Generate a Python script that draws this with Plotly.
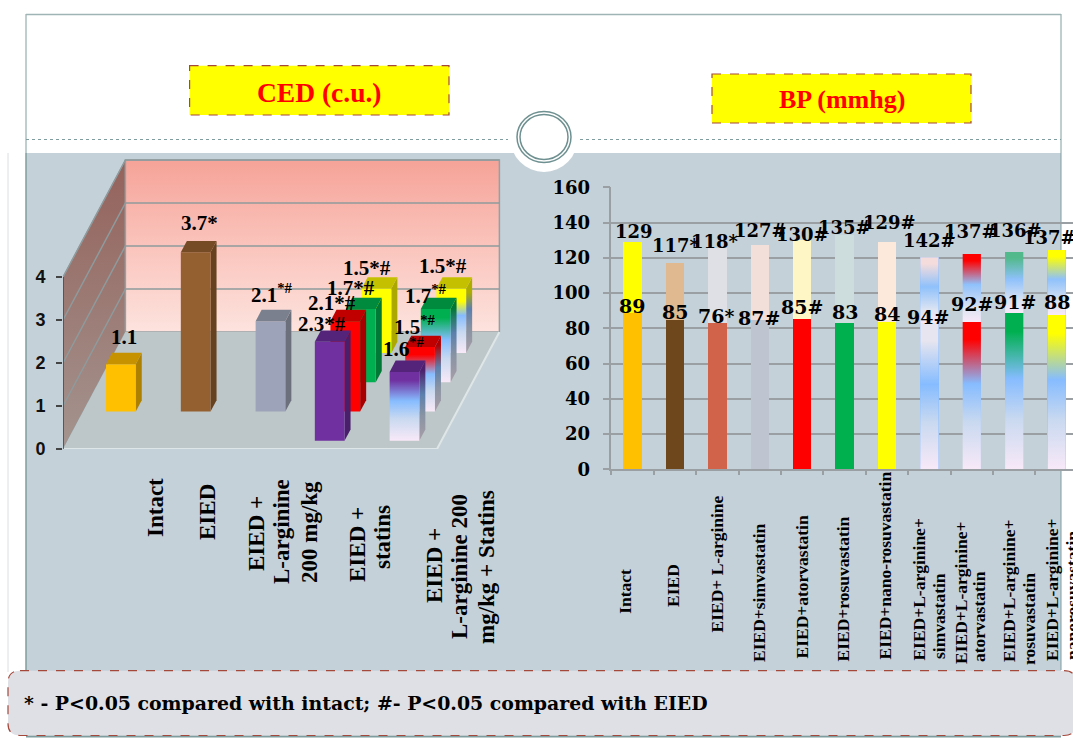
import plotly.graph_objects as go

W, H = 1073, 738

# ---------- data: left chart (CED) ----------
ced_categories = [["Intact"], ["EIED"], ["EIED +", "L-arginine", "200 mg/kg"], ["EIED +", "statins"],
                  ["EIED +", "L-arginine 200", "mg/kg + Statins"]]
ced_columns = [0, 1, 2, 3, 3, 3, 3, 4, 4, 4, 4]
ced_rows = [1, 1, 1, 0, 1, 2, 3, 0, 1, 2, 3]
ced_values = [1.1, 3.7, 2.1, 2.3, 2.1, 1.7, 1.5, 1.6, 1.5, 1.7, 1.5]
ced_labels = ["1.1", "3.7*", "2.1<sup>*#</sup>", "2.3*#", "2.1*#", "1.7*#", "1.5*#",
              "1.6<sup>*#</sup>", "1.5<sup>*#</sup>", "1.7<sup>*#</sup>", "1.5*#"]
ced_ticks = [0, 1, 2, 3, 4]

# ---------- data: right chart (BP) ----------
bp_categories = [["Intact"], ["EIED"], ["EIED+ L-arginine"], ["EIED+simvastatin"], ["EIED+atorvastatin"],
                 ["EIED+rosuvastatin"], ["EIED+nano-rosuvastatin"], ["EIED+L-arginine+", "simvastatin"],
                 ["EIED+L-arginine+", "atorvastatin"], ["EIED+L-arginine+", "rosuvastatin"],
                 ["EIED+L-arginine+", "nanorosuvastatin"]]
bp_lower = [88.5, 84.7, 83, 84.7, 85.3, 83, 83.6, 83, 83.6, 88.7, 87.6]
bp_total = [129, 117, 125.4, 127.3, 130.3, 133, 129, 120.3, 122.2, 123.3, 124.4]
bp_lower_labels = ["89", "85", "76*", "87#", "85#", "83", "84", "94#", "92#", "91#", "88"]
bp_upper_labels = ["129", "117*", "118*", "127#", "130#", "135#", "129#", "142#", "137#", "136#", "137#"]
bp_ticks = [0, 20, 40, 60, 80, 100, 120, 140, 160]

note_text = "* - P<0.05 compared with intact; #- P<0.05 compared with EIED"

# ---------- styles ----------
PANEL = "#c5d1d8"
TEAL = "#7f9c9e"
DASH = "#a5483c"
BLUE = "#86bcff"
PALE = "#f8e9f8"
SERIF = "Liberation Serif"
DJV = "DejaVu Serif"


def px(x):
    return x / W


def py(y):
    return 1 - y / H


def shade(c, k):
    r, g, b = int(c[1:3], 16), int(c[3:5], 16), int(c[5:7], 16)
    return "#%02x%02x%02x" % (int(r * k), int(g * k), int(b * k))


def grad_stops(c):
    """top-to-bottom stops of the slide's colour -> blue -> pale gradient"""
    return [(0, c), (0.12, c), (0.42, BLUE), (0.68, "#c9d9f0"), (1, PALE)]


fig = go.Figure()


def poly(xs, ys, color=None, stops=None, xa="x", ya="y", line=None):
    kw = {}
    if stops:
        top, bot = max(ys), min(ys)
        cs = [[round(1 - f, 4), c] for f, c in reversed(stops)]
        kw["fillgradient"] = dict(type="vertical", colorscale=cs, start=bot, stop=top)
    else:
        kw["fillcolor"] = color
    fig.add_trace(go.Scatter(x=list(xs) + [xs[0]], y=list(ys) + [ys[0]], mode="lines", fill="toself",
                             line=dict(width=line[1], color=line[0]) if line else dict(width=0),
                             xaxis=xa, yaxis=ya, hoverinfo="skip", showlegend=False, **kw))


def seg(xs, ys, color, width=1.5, xa="x", ya="y"):
    fig.add_trace(go.Scatter(x=xs, y=ys, mode="lines", line=dict(color=color, width=width),
                             xaxis=xa, yaxis=ya, hoverinfo="skip", showlegend=False))


# ---------- 3-D projection for the left chart (axis units) ----------
PX_PER_COL, PX_PER_VAL = 74.8, 43.0
DX = 15.6 / PX_PER_COL       # x shift per depth row
DY = 29.25 / PX_PER_VAL      # y shift per depth row
GAP = 23.0 / PX_PER_COL
BARW = 29.7 / PX_PER_COL
Z0, ZD = 0.284, 0.386
NC, NR = 5, 4
YMAX = 6.8
XMAX = 5.9

# walls and floor
wall_h = max(ced_ticks)
poly([0, NR * DX, NR * DX, 0], [0, NR * DY, NR * DY + wall_h, wall_h],
     stops=[(0, "#94625b"), (1, "#a4948f")], line=("#8f9a9c", 1))
poly([NR * DX, NC + NR * DX, NC + NR * DX, NR * DX],
     [NR * DY, NR * DY, NR * DY + wall_h, NR * DY + wall_h],
     stops=[(0, "#f6a398"), (0.5, "#fac4bc"), (1, "#fde3de")], line=("#94a0a2", 1.5))
poly([0, NC, NC + NR * DX, NR * DX], [0, 0, NR * DY, NR * DY], color="#bdc6c8")
seg([0, NC, NC + NR * DX], [0, 0, NR * DY], "#dfe6e8", 2)
for v in ced_ticks[1:]:
    seg([0, NR * DX, NC + NR * DX], [v, v + NR * DY, v + NR * DY], "#8f9a9c", 1.5)

# bars: back rows first
ced_front = [["#ffc000"], ["#956030"], ["#9da3b8"],
             ["#7030a0", "#ff0000", "#00b050", "#ffff00"],
             ["#7030a0", "#ff0000", "#00b050", "#e8e800"]]
ced_top = [["#c69200"], ["#754b25"], ["#7a808e"],
           ["#54247a", "#c00000", "#008a3e", "#c4c000"],
           ["#54247a", "#c00000", "#008a3e", "#c4c000"]]
order = sorted(range(len(ced_values)), key=lambda i: (-ced_rows[i], ced_columns[i]))
for i in order:
    c, r, v = ced_columns[i], ced_rows[i], ced_values[i]
    z0, z1 = r + Z0, r + Z0 + ZD
    x0 = c + GAP + z0 * DX
    x1 = x0 + BARW
    dx, dy = ZD * DX, ZD * DY
    yb = z0 * DY
    k = r if c >= 3 else 0
    front = ced_front[c][k]
    top = ced_top[c][k]
    if c == 4:
        st = grad_stops(front)
        if r == 3:
            st = [(0, "#ffff00"), (0.2, "#ffff00"), (0.42, BLUE), (0.68, "#c9d9f0"), (1, PALE)]
        side_st = [(f, shade(col, 0.68)) for f, col in st]
        poly([x1, x1 + dx, x1 + dx, x1], [yb, yb + dy, yb + dy + v, yb + v], stops=side_st)
        poly([x0, x1, x1, x0], [yb, yb, yb + v, yb + v], stops=st)
    else:
        poly([x1, x1 + dx, x1 + dx, x1], [yb, yb + dy, yb + dy + v, yb + v], color=shade(top, 0.88))
        poly([x0, x1, x1, x0], [yb, yb, yb + v, yb + v], color=front)
    poly([x0, x1, x1 + dx, x0 + dx], [yb + v, yb + v, yb + v + dy, yb + v + dy], color=top)

# y axis line of the left chart
seg([0, 0], [0, wall_h], "#444444", 1.5)

# ---------- right chart ----------
bp_x = list(range(len(bp_lower)))
bp_upper = [t - l for t, l in zip(bp_total, bp_lower)]
low_colors = ["#ffc000", "#6e471c", "#d0634a", "#bec4d0", "#ff0000", "#00b04f", "#ffff00", BLUE, BLUE, BLUE, BLUE]
up_colors = ["#ffff00", "#e0b990", "#dfe0e5", "#f3dfda", "#fef6c5", "#cddcdc", "#fce9dc", BLUE, BLUE, BLUE, BLUE]
BW = 0.43
fig.add_trace(go.Bar(x=bp_x, y=bp_lower, width=BW, marker=dict(color=low_colors, line=dict(width=0)),
                     xaxis="x2", yaxis="y2", showlegend=False, name="Diastolic", hoverinfo="skip"))
fig.add_trace(go.Bar(x=bp_x, y=bp_upper, width=BW, marker=dict(color=up_colors, line=dict(width=0)),
                     xaxis="x2", yaxis="y2", showlegend=False, name="Systolic", hoverinfo="skip"))
grad_low = {7: "#e7e5ef", 8: "#ff0000", 9: "#00b050", 10: "#ffff00"}
grad_up = {7: "#f4dcdc", 8: "#ff0000", 9: "#52b98c", 10: "#ffff00"}
for i in grad_low:
    xl, xr = i - BW / 2, i + BW / 2
    poly([xl, xr, xr, xl], [0, 0, bp_lower[i], bp_lower[i]], stops=grad_stops(grad_low[i]), xa="x2", ya="y2")
    poly([xl, xr, xr, xl], [bp_lower[i], bp_lower[i], bp_total[i], bp_total[i]],
         stops=[(0, grad_up[i]), (0.1, grad_up[i]), (0.45, "#8fc1fb"), (0.8, "#dde4f2"), (1, PALE)],
         xa="x2", ya="y2")

# ---------- slide furniture ----------
shapes = []


def rect(x0, y0, x1, y1, fill, line=None, dash=None, width=1, layer="below"):
    shapes.append(dict(type="rect", xref="paper", yref="paper", x0=px(x0), x1=px(x1), y0=py(y0), y1=py(y1),
                       fillcolor=fill, layer=layer,
                       line=dict(color=line or "rgba(0,0,0,0)", width=width if line else 0, dash=dash or "solid")))


def hline(x0, y0, x1, y1, color, width=1, dash="solid", layer="below"):
    shapes.append(dict(type="line", xref="paper", yref="paper", x0=px(x0), x1=px(x1), y0=py(y0), y1=py(y1),
                       layer=layer, line=dict(color=color, width=width, dash=dash)))


def ellipse(cx, cy, rx, ry, fill, line=None, width=1.5, layer="below"):
    shapes.append(dict(type="circle", xref="paper", yref="paper", x0=px(cx - rx), x1=px(cx + rx),
                       y0=py(cy + ry), y1=py(cy - ry), fillcolor=fill, layer=layer,
                       line=dict(color=line or "rgba(0,0,0,0)", width=width if line else 0)))


rect(26, 153, 1061, 737, PANEL)
hline(26, 14, 26, 153, TEAL, 1)
hline(1061, 14, 1061, 153, TEAL, 1)
hline(1061, 153, 1061, 670, TEAL, 1)
hline(26, 153, 26, 670, TEAL, 1.5)
hline(26, 14.5, 1061, 14.5, "#9fb4b4", 1.5)
hline(8, 153, 8, 672, "#d8e0e2", 1)
hline(26, 139.5, 508, 139.5, TEAL, 1, "dot")
hline(580, 139.5, 1061, 139.5, TEAL, 1, "dot")
hline(26, 736.5, 1061, 736.5, TEAL, 2)
ellipse(544, 137, 34, 35, "#ffffff")
ellipse(544, 137, 27, 25.5, "#ffffff", "#6f9090", 1.5)
ellipse(544, 137, 24, 22.5, "#ffffff", "#6f9090", 1.5)
rect(189.6, 65.7, 449, 115, "#ffff00", DASH, "dash", 1.2)
rect(712, 74, 971, 123, "#ffff00", DASH, "dash", 1.2)
# note box with rounded corners
bx0, by0, bx1, by1, rr = 8, 670.7, 1076, 735.5, 12
path = ("M {a} {b} L {c} {b} Q {x1} {b} {x1} {d} L {x1} {e} Q {x1} {y1} {c} {y1} L {a} {y1} "
        "Q {x0} {y1} {x0} {e} L {x0} {d} Q {x0} {b} {a} {b} Z").format(
    a=px(bx0 + rr), b=py(by0), c=px(bx1 - rr), d=py(by0 + rr), e=py(by1 - rr),
    x0=px(bx0), x1=px(bx1), y1=py(by1))
shapes.append(dict(type="path", path=path, xref="paper", yref="paper", fillcolor="#dfe0e5", layer="above",
                   line=dict(color=DASH, width=1.2, dash="dash")))

# ---------- text ----------
ann = []


def text_px(x, y, s, size, family=SERIF, color="#000000", angle=0, xanchor="center", yanchor="middle"):
    ann.append(dict(x=px(x), y=py(y), xref="paper", yref="paper", text="<b>%s</b>" % s, showarrow=False,
                    textangle=angle, xanchor=xanchor, yanchor=yanchor, borderpad=0,
                    font=dict(family=family, size=size, color=color)))


text_px(319, 92, "CED (c.u.)", 27.5, color="#ff0000")
text_px(842, 100, "BP (mmhg)", 26, color="#ff0000")
text_px(23, 703, note_text, 18.9, family=DJV, xanchor="left")

# left category labels: per-line centre positions
ced_cat_x = [[155], [207], [256, 281, 309], [357, 382], [434, 459, 486]]
ced_cat_y = [[508], [512], [534, 532, 532], [545, 537], [566, 567, 567]]
for lines, xs, ys in zip(ced_categories, ced_cat_x, ced_cat_y):
    for s, x, y in zip(lines, xs, ys):
        text_px(x, y, s, 23, angle=-90)

# right category labels
bp_cat_x = [[624.3], [673], [716.5], [759], [801], [842.5], [884], [918.6, 939], [961, 979], [1009, 1029],
            [1052, 1072]]
bp_cat_y = [[591.5], [586], [564], [593], [587.5], [589], [565.5], [590, 616], [593, 617], [591, 619], [590, 596]]
for lines, xs, ys in zip(bp_categories, bp_cat_x, bp_cat_y):
    for s, x, y in zip(lines, xs, ys):
        text_px(x, y, s, 17.5, angle=-90)

# left value labels, anchored at the projected bar top
ced_dx = [3, 4, 2, -8, -13, -10, -9.5, 0, -5, -9.5, -8]
ced_dy = [-27, -29, -28, -18, -18, -21, -20, -24, -21, -15, -22]
for i, s in enumerate(ced_labels):
    z0 = ced_rows[i] + Z0
    ann.append(dict(x=ced_columns[i] + GAP + z0 * DX + BARW / 2, y=z0 * DY + ced_values[i], xref="x", yref="y",
                    text="<b>%s</b>" % s, showarrow=False, xshift=ced_dx[i], yshift=-ced_dy[i],
                    font=dict(family=SERIF, size=21, color="#000000")))

# right value labels, anchored at the bar tops
up_dx = [1, 1, -2.5, 0.5, 0, 0, 2, 0, -1, 1, -7.6]
up_dy = [-10, -18, -7, -14.5, -5, -7, -19, -17, -22, -21, -13]
lo_dx = [-0.5, -0.4, -1, -1, 0, 0, 0, -1.5, 0, 0.6, 0]
lo_dy = [-7, -8, -7, -2, -12, -11, -8, -6, -18, -11, -13]
for i in bp_x:
    ann.append(dict(x=i, y=bp_total[i], xref="x2", yref="y2", text="<b>%s</b>" % bp_upper_labels[i], showarrow=False,
                    xshift=up_dx[i], yshift=-up_dy[i], font=dict(family=DJV, size=18, color="#000000")))
    ann.append(dict(x=i, y=bp_lower[i], xref="x2", yref="y2", text="<b>%s</b>" % bp_lower_labels[i], showarrow=False,
                    xshift=lo_dx[i], yshift=-lo_dy[i], font=dict(family=DJV, size=19, color="#000000")))

# ---------- axes ----------
fig.update_layout(
    width=W, height=H, autosize=False, margin=dict(l=0, r=0, t=0, b=0, autoexpand=False),
    paper_bgcolor="#ffffff", plot_bgcolor="rgba(0,0,0,0)", showlegend=False,
    barmode="stack", bargap=0.5, shapes=shapes, annotations=ann,
    xaxis=dict(domain=[px(63), px(63 + XMAX * PX_PER_COL)], range=[0, XMAX], visible=False, anchor="y"),
    yaxis=dict(domain=[py(449), py(449 - YMAX * PX_PER_VAL)], range=[0, YMAX], anchor="x", showgrid=False,
               zeroline=False, showline=False, tickmode="array", tickvals=ced_ticks, ticks="outside", ticklen=6,
               tickwidth=1.5, tickcolor="#444444", ticklabelstandoff=7,
               tickfont=dict(family="Liberation Sans", size=18, color="#111111", weight=700)),
    xaxis2=dict(domain=[px(611.4), 1], range=[-0.5, (W - 611.4) / 42.4 - 0.5], anchor="y2", showgrid=False,
                zeroline=False, showline=True, linecolor="#9a9fa3", linewidth=1.5, tickmode="array",
                tickvals=[i - 0.5 for i in range(12)], showticklabels=False, ticks="outside", ticklen=4, tickwidth=1.5,
                tickcolor="#9a9fa3"),
    yaxis2=dict(domain=[py(469.3), py(187.3)], range=[0, 160], anchor="x2", showgrid=True, gridcolor="#9a9fa3",
                gridwidth=1.5, zeroline=False, showline=True, linecolor="#9a9fa3", linewidth=1.5, tickmode="array",
                tickvals=bp_ticks, ticks="outside", ticklen=7, tickwidth=1.5, tickcolor="#9a9fa3",
                ticklabelstandoff=9, tickfont=dict(family=DJV, size=18, color="#000000", weight=700)),
)

fig.write_html("out.html", config=dict(displayModeBar=False),
               post_script="document.body.style.margin='0';document.body.style.overflow='hidden';")
